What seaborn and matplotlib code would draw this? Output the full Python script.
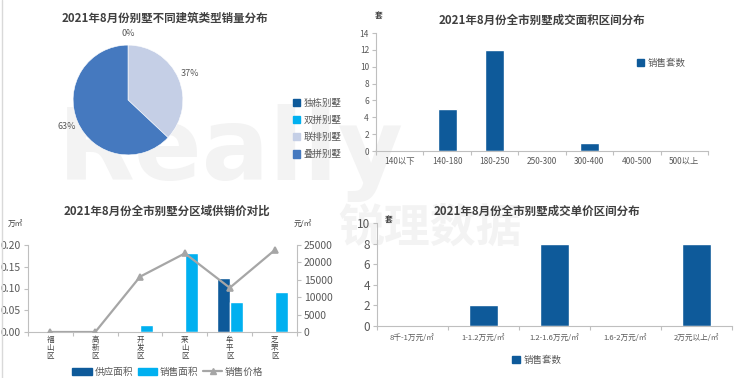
import numpy as np
import pandas as pd
import matplotlib
matplotlib.use('Agg')
import matplotlib.pyplot as plt
from matplotlib.patches import Patch
from matplotlib.lines import Line2D
from matplotlib.ticker import FixedLocator
import seaborn as sns

# --- data ---
pie_types = ['独栋别墅', '双拼别墅', '联排别墅', '叠拼别墅']
pie_share = [0, 0, 37, 63]
pie_colors = ['#0e5a9a', '#00b0f0', '#c5cfe6', '#4579bf']

area_bins = ['140以下', '140-180', '180-250', '250-300', '300-400', '400-500', '500以上']
area_sales = [0, 5, 12, 0, 1, 0, 0]

districts = ['福山区', '高新区', '开发区', '莱山区', '牟平区', '芝罘区']
supply_area = [0, 0, 0, 0, 0.125, 0]
sale_area = [0, 0, 0.017, 0.182, 0.068, 0.091]
sale_price = [0, 0, 15900, 22600, 12700, 23500]

price_bins = ['8千-1万元/㎡', '1-1.2万元/㎡', '1.2-1.6万元/㎡', '1.6-2万元/㎡', '2万元以上/㎡']
price_sales = [0, 2, 8, 0, 8]

DARK = '#0e5a9a'
CYAN = '#00b0f0'
GRAY_LINE = '#a6a6a6'
TXT = '#595959'
SPINE = '#bfbfbf'

sns.set_style('white')
plt.rcParams['font.family'] = ['Noto Sans CJK SC', 'DejaVu Sans']
plt.rcParams['axes.unicode_minus'] = False

W, H = 740, 378
fig = plt.figure(figsize=(W / 100, H / 100), dpi=100)


def box(x0, y0, x1, y1):
    # pixel box (top-left origin) -> figure fraction rect
    return [x0 / W, 1 - y1 / H, (x1 - x0) / W, (y1 - y0) / H]


def style_axis(ax, ysize):
    for s in ['top', 'right']:
        ax.spines[s].set_visible(False)
    for s in ['left', 'bottom']:
        ax.spines[s].set_color(SPINE)
        ax.spines[s].set_linewidth(0.8)
    ax.tick_params(axis='y', colors=SPINE, labelcolor=TXT, labelsize=ysize,
                   length=3, width=0.8, direction='out', left=True, pad=2)
    ax.patch.set_alpha(0)
    ax.set_xlabel('')
    ax.set_ylabel('')


def boundary_ticks(ax, n):
    # Excel style: small ticks between the categories
    ax.xaxis.set_minor_locator(FixedLocator(np.arange(-0.5, n, 1.0)))
    ax.tick_params(axis='x', which='minor', length=3, color=SPINE, width=0.8, bottom=True)


# faint watermark behind everything
fig.text(58 / W, 1 - 180 / H, 'Really', fontsize=72, fontweight='bold',
         color='#f3f3f3', family='DejaVu Sans', zorder=-5, va='baseline')
fig.text(338 / W, 1 - 242 / H, '锐理数据', fontsize=33, fontweight='bold',
         color='#f3f3f3', zorder=-5, va='baseline')
fig.add_artist(Line2D([2 / W, 2 / W], [0, 1], color='#d9d9d9', lw=1))

# --- top left: pie ---
ax_pie = fig.add_axes(box(72, 44, 184, 156))
ax_pie.patch.set_alpha(0)
wedges, _, autotexts = ax_pie.pie(
    pie_share, colors=pie_colors, startangle=90, counterclock=False,
    autopct='%.0f%%', pctdistance=1.22, radius=1,
    wedgeprops=dict(linewidth=0.4, edgecolor='white'),
    textprops=dict(fontsize=6.5, color=TXT))
# the two empty wedges share one "0%" label
autotexts[1].set_visible(False)
ax_pie.set_xlim(-1.02, 1.02)
ax_pie.set_ylim(-1.02, 1.02)
fig.text(165 / W, 1 - 18 / H, '2021年8月份别墅不同建筑类型销量分布', ha='center', va='center',
         fontsize=8.3, fontweight='bold', color='#404040')
fig.legend([Patch(color=c) for c in pie_colors], pie_types, loc='upper left',
           bbox_to_anchor=(284 / W, 1 - 90 / H), frameon=False, fontsize=6.8,
           handlelength=0.8, handleheight=0.8, handletextpad=0.4,
           labelspacing=0.85, labelcolor=TXT)

# --- top right: area distribution ---
ax_a = fig.add_axes(box(376, 33, 708, 151))
sns.barplot(x=area_bins, y=area_sales, color=DARK, saturation=1, width=0.4,
            ax=ax_a, errorbar=None)
ax_a.set_ylim(0, 14)
ax_a.set_yticks(range(0, 15, 2))
ax_a.set_xlim(-0.5, len(area_bins) - 0.5)
style_axis(ax_a, 6)
ax_a.tick_params(axis='x', which='major', length=0, labelsize=6, labelcolor=TXT, pad=4)
boundary_ticks(ax_a, len(area_bins))
fig.text(542 / W, 1 - 20 / H, '2021年8月份全市别墅成交面积区间分布', ha='center', va='center',
         fontsize=8.3, fontweight='bold', color='#404040')
fig.text(379 / W, 1 - 15 / H, '套', ha='center', va='center', fontsize=5.5,
         color='#404040', fontweight='bold')
ax_a.legend([Patch(color=DARK)], ['销售套数'], loc='upper left',
            bbox_to_anchor=(628 / W, 1 - 50 / H), bbox_transform=fig.transFigure,
            frameon=False, fontsize=6.8, handlelength=0.8, handleheight=0.8,
            handletextpad=0.4, labelcolor=TXT)

# --- bottom left: district supply / sale / price ---
ax_d = fig.add_axes(box(28, 245, 297, 332))
df_d = pd.DataFrame({
    'district': districts * 2,
    'kind': ['供应面积'] * len(districts) + ['销售面积'] * len(districts),
    'value': supply_area + sale_area,
})
sns.barplot(data=df_d, x='district', y='value', hue='kind', palette=[DARK, CYAN],
            saturation=1, width=0.58, ax=ax_d, errorbar=None, legend=False)
ax_p = ax_d.twinx()
sns.pointplot(x=districts, y=sale_price, ax=ax_p, color=GRAY_LINE, markers='^',
              markersize=4, linewidth=1.6, errorbar=None)
ax_d.set_ylim(0, 0.20)
ax_d.set_yticks(np.arange(0, 0.201, 0.05))
ax_d.set_yticklabels([f'{v:.2f}' for v in np.arange(0, 0.201, 0.05)])
ax_d.set_xlim(-0.5, len(districts) - 0.5)
style_axis(ax_d, 7.5)
ax_p.set_ylim(0, 25000)
ax_p.set_yticks(range(0, 25001, 5000))
ax_p.patch.set_alpha(0)
for s in ['top', 'left', 'bottom']:
    ax_p.spines[s].set_visible(False)
ax_p.spines['right'].set_color(SPINE)
ax_p.spines['right'].set_linewidth(0.8)
ax_p.tick_params(axis='y', colors=SPINE, labelcolor=TXT, labelsize=7.5,
                 length=3, width=0.8, direction='out', right=True, pad=2)
ax_p.set_ylabel('')
ax_d.set_xticks(range(len(districts)))
ax_d.set_xticklabels(['\n'.join(d) for d in districts], fontsize=5.4,
                     color='#404040', linespacing=1.0)
ax_d.tick_params(axis='x', which='major', length=0, pad=3)
boundary_ticks(ax_d, len(districts))
ax_d.set_xlabel('')
fig.text(167 / W, 1 - 211 / H, '2021年8月份全市别墅分区域供销价对比', ha='center', va='center',
         fontsize=8.3, fontweight='bold', color='#404040')
fig.text(15 / W, 1 - 224 / H, '万㎡', ha='center', va='center', fontsize=5.5, color='#404040')
fig.text(303 / W, 1 - 224 / H, '元/㎡', ha='center', va='center', fontsize=5.5, color='#404040')
fig.legend([Patch(color=DARK), Patch(color=CYAN),
            Line2D([], [], color=GRAY_LINE, lw=1.6, marker='^', markersize=4)],
           ['供应面积', '销售面积', '销售价格'], loc='center', ncol=3,
           bbox_to_anchor=(168 / W, 1 - 372 / H), frameon=False, fontsize=6.9,
           handlelength=2.0, handleheight=0.75, handletextpad=0.3,
           columnspacing=0.5, labelcolor=TXT)

# --- bottom right: unit price distribution ---
ax_u = fig.add_axes(box(377, 223, 732, 326))
sns.barplot(x=price_bins, y=price_sales, color=DARK, saturation=1, width=0.4,
            ax=ax_u, errorbar=None)
ax_u.set_ylim(0, 10)
ax_u.set_yticks(range(0, 11, 2))
ax_u.set_xlim(-0.5, len(price_bins) - 0.5)
style_axis(ax_u, 8.5)
ax_u.tick_params(axis='x', which='major', length=0, labelsize=5.5, labelcolor=TXT, pad=6)
boundary_ticks(ax_u, len(price_bins))
fig.text(537 / W, 1 - 211 / H, '2021年8月份全市别墅成交单价区间分布', ha='center', va='center',
         fontsize=8.3, fontweight='bold', color='#404040')
fig.text(389 / W, 1 - 219 / H, '套', ha='center', va='center', fontsize=5.5,
         color='#404040', fontweight='bold')
fig.legend([Patch(color=DARK)], ['销售套数'], loc='center',
           bbox_to_anchor=(537 / W, 1 - 360 / H), frameon=False, fontsize=6.8,
           handlelength=0.8, handleheight=0.8, handletextpad=0.4, labelcolor=TXT)

fig.savefig('out.png', dpi=100, facecolor='white')
